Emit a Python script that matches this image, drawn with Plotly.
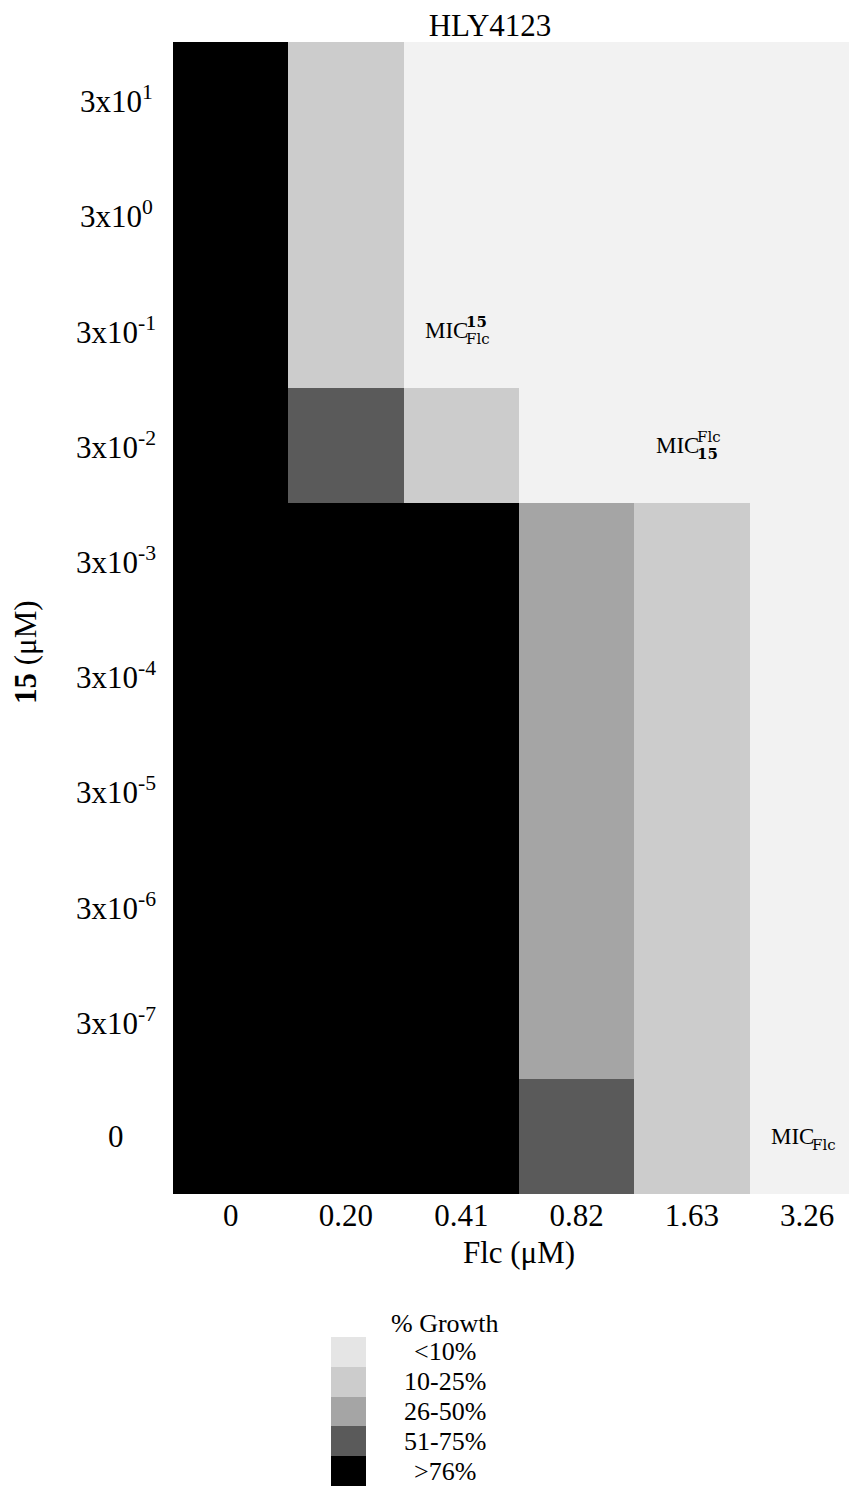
import plotly.graph_objects as go

# ---- data ----
flc_labels = ["0", "0.20", "0.41", "0.82", "1.63", "3.26"]
cmpd_labels = ["3x10<sup>1</sup>", "3x10<sup>0</sup>", "3x10<sup>-1</sup>", "3x10<sup>-2</sup>",
               "3x10<sup>-3</sup>", "3x10<sup>-4</sup>", "3x10<sup>-5</sup>", "3x10<sup>-6</sup>",
               "3x10<sup>-7</sup>", "0"]
# growth class: 0 = <10%, 1 = 10-25%, 2 = 26-50%, 3 = 51-75%, 4 = >76%
growth = [
    [4, 1, 0, 0, 0, 0],
    [4, 1, 0, 0, 0, 0],
    [4, 1, 0, 0, 0, 0],
    [4, 3, 1, 0, 0, 0],
    [4, 4, 4, 2, 1, 0],
    [4, 4, 4, 2, 1, 0],
    [4, 4, 4, 2, 1, 0],
    [4, 4, 4, 2, 1, 0],
    [4, 4, 4, 2, 1, 0],
    [4, 4, 4, 3, 1, 0],
]
class_labels = ["<10%", "10-25%", "26-50%", "51-75%", ">76%"]
class_values = [0, 1, 2, 3, 4]
cell_colors = ["#f2f2f2", "#cccccc", "#a5a5a5", "#5a5a5a", "#000000"]
swatch_colors = ["#e5e5e5", "#cccccc", "#a5a5a5", "#5a5a5a", "#000000"]

# MIC notes: (Flc column, compound row, superscript, subscript)
mic_notes = [
    ("0.41", "3x10<sup>-1</sup>", "<b>15</b>", "Flc"),
    ("1.63", "3x10<sup>-2</sup>", "Flc", "<b>15</b>"),
    ("3.26", "0", "", "Flc"),
]


def discrete_scale(colors):
    n = len(colors)
    cs = []
    for i, c in enumerate(colors):
        cs.append([i / n, c])
        cs.append([(i + 1) / n, c])
    return cs


W, H = 857, 1487
L, T = 165, 34
PW = W - L
PH = H - T
main_bottom = 1186

serif = "Liberation Serif"
math = "DejaVu Serif"

fig = go.Figure()
fig.add_trace(go.Heatmap(
    z=growth, x=list(range(len(flc_labels))), y=list(range(len(cmpd_labels))),
    colorscale=discrete_scale(cell_colors), zmin=-0.5, zmax=4.5,
    showscale=False, xaxis="x", yaxis="y", hoverinfo="skip",
))
fig.add_trace(go.Heatmap(
    z=[[v] for v in class_values], x=[0], y=list(range(len(class_labels))),
    colorscale=discrete_scale(swatch_colors), zmin=-0.5, zmax=4.5,
    showscale=False, xaxis="x2", yaxis="y2", hoverinfo="skip",
))

col_w = 115.3
x_right = -0.5 + PW / col_w

fig.update_layout(
    width=W, height=H,
    margin=dict(l=L, r=0, t=T, b=0),
    paper_bgcolor="white", plot_bgcolor="white",
    font=dict(family=serif, size=31, color="black"),
    title=dict(text="HLY4123", x=(490 - 8) / W, xanchor="center", xref="container",
               y=1 - 17 / H, yanchor="middle",
               font=dict(family=serif, size=31, color="black")),
    xaxis=dict(domain=[0, 1], range=[-0.5, x_right], showgrid=False, zeroline=False,
               showline=False, ticks="", tickfont=dict(size=31),
               tickmode="array", tickvals=list(range(len(flc_labels))), ticktext=flc_labels,
               title=dict(text="Flc (μM)", font=dict(size=31), standoff=9),
               anchor="y"),
    yaxis=dict(domain=[(H - main_bottom) / PH, 1], range=[len(cmpd_labels) - 0.5, -0.5],
               showgrid=False, zeroline=False, showline=False, ticks="",
               showticklabels=False, anchor="x"),
    xaxis2=dict(domain=[(323 - L) / PW, (358 - L) / PW], anchor="y2", range=[-0.5, 0.5],
                showticklabels=False, showgrid=False, zeroline=False, ticks=""),
    yaxis2=dict(domain=[(H - 1478) / PH, (H - 1329) / PH], anchor="x2",
                range=[len(class_labels) - 0.5, -0.5],
                showticklabels=False, showgrid=False, zeroline=False, ticks=""),
)

# y tick labels, centred as in the reference
for i, lab in enumerate(cmpd_labels):
    fig.add_annotation(x=-57 / PW, y=i, xref="paper", yref="y", text=lab, showarrow=False,
                       xanchor="center", yanchor="middle",
                       font=dict(family=serif, size=31, color="black"))

# y axis title
fig.add_annotation(x=-(165 - 17) / PW, y=1 - (644 - T) / PH, xref="paper", yref="paper",
                   text="<b>15</b> (μM)", textangle=-90, showarrow=False,
                   xanchor="center", yanchor="middle",
                   font=dict(family=serif, size=31, color="black"))

# MIC notes: "MIC" with stacked super/subscripts
for xv, yv, sup, sub in mic_notes:
    xi = flc_labels.index(xv)
    yi = cmpd_labels.index(yv)
    fig.add_annotation(x=xi, y=yi, xref="x", yref="y", text="MIC", showarrow=False,
                       xanchor="right", yanchor="middle", xshift=9,
                       font=dict(family=serif, size=23, color="black"))
    if sup:
        fig.add_annotation(x=xi, y=yi, xref="x", yref="y", text=sup, showarrow=False,
                           xanchor="left", yanchor="middle", xshift=3, yshift=8,
                           font=dict(family=math, size=15, color="black"))
    if sub:
        fig.add_annotation(x=xi, y=yi, xref="x", yref="y", text=sub, showarrow=False,
                           xanchor="left", yanchor="middle", xshift=3, yshift=-9,
                           font=dict(family=math, size=15, color="black"))

# legend labels
for i, lab in enumerate(class_labels):
    fig.add_annotation(x=(437 - L) / PW, y=i, xref="paper", yref="y2",
                       text=lab.replace("<", "&lt;").replace(">", "&gt;"),
                       showarrow=False, xanchor="center", yanchor="middle",
                       font=dict(family=serif, size=26, color="black"))
fig.add_annotation(x=(437 - L) / PW, y=(H - 1315) / PH, xref="paper", yref="paper",
                   text="% Growth", showarrow=False, xanchor="center", yanchor="middle",
                   font=dict(family=serif, size=26, color="black"))

fig.write_html("out.html")
